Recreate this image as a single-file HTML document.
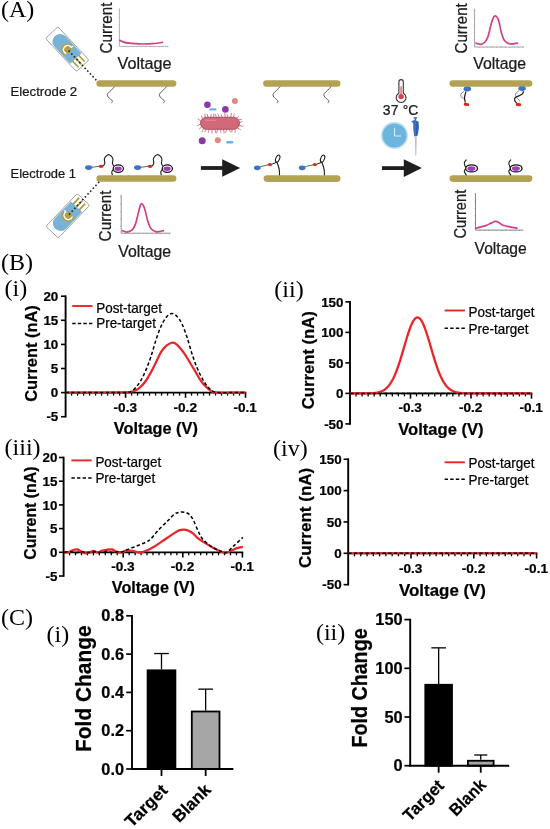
<!DOCTYPE html>
<html><head><meta charset="utf-8"><style>
html,body{margin:0;padding:0;background:#fff;}
svg{display:block;filter:blur(0.3px);}
text{stroke:#000;stroke-width:0.22px;}
text.s{stroke:none;}
</style></head><body>
<svg width="550" height="829" viewBox="0 0 550 829">
<rect width="550" height="829" fill="#fff"/>
<text class="s" x="1.0" y="17.0" font-family="Liberation Serif" font-size="24.0" fill="#000">(A)</text>
<text class="s" x="1.0" y="269.9" font-family="Liberation Serif" font-size="24.0" fill="#000">(B)</text>
<text class="s" x="4.6" y="295.6" font-family="Liberation Serif" font-size="24.0" fill="#000">(i)</text>
<text class="s" x="274.3" y="297.1" font-family="Liberation Serif" font-size="24.0" fill="#000">(ii)</text>
<text class="s" x="4.6" y="455.3" font-family="Liberation Serif" font-size="24.0" fill="#000">(iii)</text>
<text class="s" x="273.0" y="456.0" font-family="Liberation Serif" font-size="24.0" fill="#000">(iv)</text>
<text class="s" x="1.0" y="624.5" font-family="Liberation Serif" font-size="24.0" fill="#000">(C)</text>
<text class="s" x="46.6" y="641.7" font-family="Liberation Serif" font-size="24.0" fill="#000">(i)</text>
<text class="s" x="315.9" y="640.3" font-family="Liberation Serif" font-size="24.0" fill="#000">(ii)</text>
<line x1="65.60" y1="295.40" x2="65.60" y2="417.50" stroke="#000" stroke-width="1.9"/>
<line x1="61.00" y1="296.20" x2="65.60" y2="296.20" stroke="#000" stroke-width="1.6"/>
<text x="58.30" y="300.80" font-family="Liberation Sans" font-size="13.4" font-weight="bold" text-anchor="end" fill="#000" >20</text>
<line x1="61.00" y1="320.30" x2="65.60" y2="320.30" stroke="#000" stroke-width="1.6"/>
<text x="58.30" y="324.90" font-family="Liberation Sans" font-size="13.4" font-weight="bold" text-anchor="end" fill="#000" >15</text>
<line x1="61.00" y1="344.40" x2="65.60" y2="344.40" stroke="#000" stroke-width="1.6"/>
<text x="58.30" y="349.00" font-family="Liberation Sans" font-size="13.4" font-weight="bold" text-anchor="end" fill="#000" >10</text>
<line x1="61.00" y1="368.50" x2="65.60" y2="368.50" stroke="#000" stroke-width="1.6"/>
<text x="58.30" y="373.10" font-family="Liberation Sans" font-size="13.4" font-weight="bold" text-anchor="end" fill="#000" >5</text>
<line x1="61.00" y1="392.60" x2="65.60" y2="392.60" stroke="#000" stroke-width="1.6"/>
<text x="58.30" y="397.20" font-family="Liberation Sans" font-size="13.4" font-weight="bold" text-anchor="end" fill="#000" >0</text>
<line x1="61.00" y1="416.70" x2="65.60" y2="416.70" stroke="#000" stroke-width="1.6"/>
<text x="58.30" y="421.30" font-family="Liberation Sans" font-size="13.4" font-weight="bold" text-anchor="end" fill="#000" >-5</text>
<line x1="65.60" y1="392.60" x2="246.31" y2="392.60" stroke="#000" stroke-width="1.7"/>
<line x1="71.60" y1="392.60" x2="71.60" y2="395.60" stroke="#000" stroke-width="1.3"/>
<line x1="77.59" y1="392.60" x2="77.59" y2="395.60" stroke="#000" stroke-width="1.3"/>
<line x1="83.59" y1="392.60" x2="83.59" y2="395.60" stroke="#000" stroke-width="1.3"/>
<line x1="89.59" y1="392.60" x2="89.59" y2="395.60" stroke="#000" stroke-width="1.3"/>
<line x1="95.58" y1="392.60" x2="95.58" y2="395.60" stroke="#000" stroke-width="1.3"/>
<line x1="101.58" y1="392.60" x2="101.58" y2="395.60" stroke="#000" stroke-width="1.3"/>
<line x1="107.58" y1="392.60" x2="107.58" y2="395.60" stroke="#000" stroke-width="1.3"/>
<line x1="113.58" y1="392.60" x2="113.58" y2="395.60" stroke="#000" stroke-width="1.3"/>
<line x1="119.57" y1="392.60" x2="119.57" y2="395.60" stroke="#000" stroke-width="1.3"/>
<line x1="125.57" y1="392.60" x2="125.57" y2="397.80" stroke="#000" stroke-width="1.6"/>
<line x1="131.57" y1="392.60" x2="131.57" y2="395.60" stroke="#000" stroke-width="1.3"/>
<line x1="137.56" y1="392.60" x2="137.56" y2="395.60" stroke="#000" stroke-width="1.3"/>
<line x1="143.56" y1="392.60" x2="143.56" y2="395.60" stroke="#000" stroke-width="1.3"/>
<line x1="149.56" y1="392.60" x2="149.56" y2="395.60" stroke="#000" stroke-width="1.3"/>
<line x1="155.56" y1="392.60" x2="155.56" y2="395.60" stroke="#000" stroke-width="1.3"/>
<line x1="161.55" y1="392.60" x2="161.55" y2="395.60" stroke="#000" stroke-width="1.3"/>
<line x1="167.55" y1="392.60" x2="167.55" y2="395.60" stroke="#000" stroke-width="1.3"/>
<line x1="173.55" y1="392.60" x2="173.55" y2="395.60" stroke="#000" stroke-width="1.3"/>
<line x1="179.54" y1="392.60" x2="179.54" y2="395.60" stroke="#000" stroke-width="1.3"/>
<line x1="185.54" y1="392.60" x2="185.54" y2="397.80" stroke="#000" stroke-width="1.6"/>
<line x1="191.54" y1="392.60" x2="191.54" y2="395.60" stroke="#000" stroke-width="1.3"/>
<line x1="197.53" y1="392.60" x2="197.53" y2="395.60" stroke="#000" stroke-width="1.3"/>
<line x1="203.53" y1="392.60" x2="203.53" y2="395.60" stroke="#000" stroke-width="1.3"/>
<line x1="209.53" y1="392.60" x2="209.53" y2="395.60" stroke="#000" stroke-width="1.3"/>
<line x1="215.53" y1="392.60" x2="215.53" y2="395.60" stroke="#000" stroke-width="1.3"/>
<line x1="221.52" y1="392.60" x2="221.52" y2="395.60" stroke="#000" stroke-width="1.3"/>
<line x1="227.52" y1="392.60" x2="227.52" y2="395.60" stroke="#000" stroke-width="1.3"/>
<line x1="233.52" y1="392.60" x2="233.52" y2="395.60" stroke="#000" stroke-width="1.3"/>
<line x1="239.51" y1="392.60" x2="239.51" y2="395.60" stroke="#000" stroke-width="1.3"/>
<line x1="245.51" y1="392.60" x2="245.51" y2="397.80" stroke="#000" stroke-width="1.6"/>
<text x="125.27" y="411.90" font-family="Liberation Sans" font-size="13.6" font-weight="bold" text-anchor="middle" fill="#000" >-0.3</text>
<text x="185.24" y="411.90" font-family="Liberation Sans" font-size="13.6" font-weight="bold" text-anchor="middle" fill="#000" >-0.2</text>
<text x="245.21" y="411.90" font-family="Liberation Sans" font-size="13.6" font-weight="bold" text-anchor="middle" fill="#000" >-0.1</text>
<path d="M65.60,392.60 C71.33,392.60 90.10,392.63 100.00,392.60 C109.90,392.57 119.97,392.50 125.00,392.40 C130.03,392.30 128.47,392.32 130.20,392.00 C131.93,391.68 133.68,391.33 135.40,390.50 C137.12,389.67 138.78,388.58 140.50,387.00 C142.22,385.42 143.97,383.43 145.70,381.00 C147.43,378.57 149.17,375.57 150.90,372.40 C152.63,369.23 154.37,365.47 156.10,362.00 C157.83,358.53 159.57,354.33 161.30,351.60 C163.03,348.87 164.78,347.08 166.50,345.60 C168.22,344.12 170.17,343.08 171.60,342.70 C173.03,342.32 173.65,342.38 175.10,343.30 C176.55,344.22 178.58,346.23 180.30,348.20 C182.02,350.17 183.68,352.52 185.40,355.10 C187.12,357.68 188.87,360.82 190.60,363.70 C192.33,366.58 194.07,369.52 195.80,372.40 C197.53,375.28 199.27,378.57 201.00,381.00 C202.73,383.43 204.47,385.30 206.20,387.00 C207.93,388.70 209.68,390.28 211.40,391.20 C213.12,392.12 213.40,392.27 216.50,392.50 C219.60,392.73 225.15,392.58 230.00,392.60 C234.85,392.62 243.00,392.60 245.60,392.60" fill="none" stroke="#e8262a" stroke-width="2.2" stroke-linejoin="round"/>
<path d="M65.60,392.60 C71.33,392.60 90.10,392.62 100.00,392.60 C109.90,392.58 119.97,392.60 125.00,392.50 C130.03,392.40 128.47,392.77 130.20,392.00 C131.93,391.23 133.68,389.73 135.40,387.90 C137.12,386.07 138.78,383.88 140.50,381.00 C142.22,378.12 143.97,374.63 145.70,370.60 C147.43,366.57 149.17,361.98 150.90,356.80 C152.63,351.62 154.37,344.68 156.10,339.50 C157.83,334.32 159.57,329.43 161.30,325.70 C163.03,321.97 164.78,319.12 166.50,317.10 C168.22,315.08 169.88,313.75 171.60,313.60 C173.32,313.45 175.07,314.47 176.80,316.20 C178.53,317.93 180.27,320.40 182.00,324.00 C183.73,327.60 185.47,332.62 187.20,337.80 C188.93,342.98 190.68,349.92 192.40,355.10 C194.12,360.28 195.78,364.87 197.50,368.90 C199.22,372.93 200.97,376.28 202.70,379.30 C204.43,382.32 206.17,384.98 207.90,387.00 C209.63,389.02 211.42,390.47 213.10,391.40 C214.78,392.33 215.18,392.40 218.00,392.60 C220.82,392.80 225.40,392.60 230.00,392.60 C234.60,392.60 243.00,392.60 245.60,392.60" fill="none" stroke="#000" stroke-width="1.5" stroke-linejoin="round" stroke-dasharray="3.4,2.3"/>
<text transform="translate(36.80,353.50) rotate(-90)" x="-48.30" y="0" font-family="Liberation Sans" font-size="16.4" font-weight="bold" fill="#000" textLength="96.60" lengthAdjust="spacingAndGlyphs">Current (nA)</text>
<text x="113.85" y="433.50" font-family="Liberation Sans" font-size="16.3" font-weight="bold" fill="#000" textLength="84.00" lengthAdjust="spacingAndGlyphs">Voltage (V)</text>
<line x1="72.20" y1="306.00" x2="92.50" y2="306.00" stroke="#e8262a" stroke-width="1.9"/>
<line x1="72.20" y1="323.40" x2="92.50" y2="323.40" stroke="#000" stroke-width="1.5" stroke-dasharray="3.4,2.2"/>
<text x="96.20" y="312.50" font-family="Liberation Sans" font-size="14.2" textLength="65.8" lengthAdjust="spacingAndGlyphs">Post-target</text>
<text x="96.20" y="327.80" font-family="Liberation Sans" font-size="14.2" textLength="59.8" lengthAdjust="spacingAndGlyphs">Pre-target</text>
<line x1="350.00" y1="301.10" x2="350.00" y2="424.70" stroke="#000" stroke-width="1.9"/>
<line x1="345.40" y1="301.90" x2="350.00" y2="301.90" stroke="#000" stroke-width="1.6"/>
<text x="343.50" y="306.50" font-family="Liberation Sans" font-size="13.4" font-weight="bold" text-anchor="end" fill="#000" >150</text>
<line x1="345.40" y1="332.40" x2="350.00" y2="332.40" stroke="#000" stroke-width="1.6"/>
<text x="343.50" y="337.00" font-family="Liberation Sans" font-size="13.4" font-weight="bold" text-anchor="end" fill="#000" >100</text>
<line x1="345.40" y1="362.90" x2="350.00" y2="362.90" stroke="#000" stroke-width="1.6"/>
<text x="343.50" y="367.50" font-family="Liberation Sans" font-size="13.4" font-weight="bold" text-anchor="end" fill="#000" >50</text>
<line x1="345.40" y1="393.40" x2="350.00" y2="393.40" stroke="#000" stroke-width="1.6"/>
<text x="343.50" y="398.00" font-family="Liberation Sans" font-size="13.4" font-weight="bold" text-anchor="end" fill="#000" >0</text>
<line x1="345.40" y1="423.90" x2="350.00" y2="423.90" stroke="#000" stroke-width="1.6"/>
<text x="343.50" y="428.50" font-family="Liberation Sans" font-size="13.4" font-weight="bold" text-anchor="end" fill="#000" >-50</text>
<line x1="350.00" y1="393.40" x2="532.30" y2="393.40" stroke="#000" stroke-width="1.7"/>
<line x1="356.05" y1="393.40" x2="356.05" y2="396.40" stroke="#000" stroke-width="1.3"/>
<line x1="362.10" y1="393.40" x2="362.10" y2="396.40" stroke="#000" stroke-width="1.3"/>
<line x1="368.15" y1="393.40" x2="368.15" y2="396.40" stroke="#000" stroke-width="1.3"/>
<line x1="374.20" y1="393.40" x2="374.20" y2="396.40" stroke="#000" stroke-width="1.3"/>
<line x1="380.25" y1="393.40" x2="380.25" y2="396.40" stroke="#000" stroke-width="1.3"/>
<line x1="386.30" y1="393.40" x2="386.30" y2="396.40" stroke="#000" stroke-width="1.3"/>
<line x1="392.35" y1="393.40" x2="392.35" y2="396.40" stroke="#000" stroke-width="1.3"/>
<line x1="398.40" y1="393.40" x2="398.40" y2="396.40" stroke="#000" stroke-width="1.3"/>
<line x1="404.45" y1="393.40" x2="404.45" y2="396.40" stroke="#000" stroke-width="1.3"/>
<line x1="410.50" y1="393.40" x2="410.50" y2="398.60" stroke="#000" stroke-width="1.6"/>
<line x1="416.55" y1="393.40" x2="416.55" y2="396.40" stroke="#000" stroke-width="1.3"/>
<line x1="422.60" y1="393.40" x2="422.60" y2="396.40" stroke="#000" stroke-width="1.3"/>
<line x1="428.65" y1="393.40" x2="428.65" y2="396.40" stroke="#000" stroke-width="1.3"/>
<line x1="434.70" y1="393.40" x2="434.70" y2="396.40" stroke="#000" stroke-width="1.3"/>
<line x1="440.75" y1="393.40" x2="440.75" y2="396.40" stroke="#000" stroke-width="1.3"/>
<line x1="446.80" y1="393.40" x2="446.80" y2="396.40" stroke="#000" stroke-width="1.3"/>
<line x1="452.85" y1="393.40" x2="452.85" y2="396.40" stroke="#000" stroke-width="1.3"/>
<line x1="458.90" y1="393.40" x2="458.90" y2="396.40" stroke="#000" stroke-width="1.3"/>
<line x1="464.95" y1="393.40" x2="464.95" y2="396.40" stroke="#000" stroke-width="1.3"/>
<line x1="471.00" y1="393.40" x2="471.00" y2="398.60" stroke="#000" stroke-width="1.6"/>
<line x1="477.05" y1="393.40" x2="477.05" y2="396.40" stroke="#000" stroke-width="1.3"/>
<line x1="483.10" y1="393.40" x2="483.10" y2="396.40" stroke="#000" stroke-width="1.3"/>
<line x1="489.15" y1="393.40" x2="489.15" y2="396.40" stroke="#000" stroke-width="1.3"/>
<line x1="495.20" y1="393.40" x2="495.20" y2="396.40" stroke="#000" stroke-width="1.3"/>
<line x1="501.25" y1="393.40" x2="501.25" y2="396.40" stroke="#000" stroke-width="1.3"/>
<line x1="507.30" y1="393.40" x2="507.30" y2="396.40" stroke="#000" stroke-width="1.3"/>
<line x1="513.35" y1="393.40" x2="513.35" y2="396.40" stroke="#000" stroke-width="1.3"/>
<line x1="519.40" y1="393.40" x2="519.40" y2="396.40" stroke="#000" stroke-width="1.3"/>
<line x1="525.45" y1="393.40" x2="525.45" y2="396.40" stroke="#000" stroke-width="1.3"/>
<line x1="531.50" y1="393.40" x2="531.50" y2="398.60" stroke="#000" stroke-width="1.6"/>
<text x="410.20" y="411.90" font-family="Liberation Sans" font-size="13.6" font-weight="bold" text-anchor="middle" fill="#000" >-0.3</text>
<text x="470.70" y="411.90" font-family="Liberation Sans" font-size="13.6" font-weight="bold" text-anchor="middle" fill="#000" >-0.2</text>
<text x="531.20" y="411.90" font-family="Liberation Sans" font-size="13.6" font-weight="bold" text-anchor="middle" fill="#000" >-0.1</text>
<path d="M350.00,393.40 L350.76,393.40 L351.51,393.40 L352.27,393.40 L353.02,393.40 L353.78,393.40 L354.54,393.40 L355.29,393.40 L356.05,393.40 L356.81,393.40 L357.56,393.40 L358.32,393.40 L359.07,393.39 L359.83,393.39 L360.59,393.39 L361.34,393.39 L362.10,393.38 L362.86,393.38 L363.61,393.38 L364.37,393.37 L365.12,393.36 L365.88,393.35 L366.64,393.34 L367.39,393.33 L368.15,393.31 L368.91,393.29 L369.66,393.26 L370.42,393.24 L371.18,393.20 L371.93,393.16 L372.69,393.11 L373.44,393.05 L374.20,392.98 L374.96,392.89 L375.71,392.79 L376.47,392.68 L377.23,392.54 L377.98,392.39 L378.74,392.21 L379.49,392.00 L380.25,391.76 L381.01,391.49 L381.76,391.18 L382.52,390.82 L383.27,390.42 L384.03,389.97 L384.79,389.46 L385.54,388.89 L386.30,388.25 L387.06,387.54 L387.81,386.75 L388.57,385.89 L389.32,384.93 L390.08,383.89 L390.84,382.75 L391.59,381.51 L392.35,380.17 L393.11,378.72 L393.86,377.17 L394.62,375.51 L395.38,373.74 L396.13,371.87 L396.89,369.89 L397.64,367.82 L398.40,365.65 L399.16,363.39 L399.91,361.04 L400.67,358.63 L401.43,356.15 L402.18,353.63 L402.94,351.06 L403.69,348.48 L404.45,345.89 L405.21,343.30 L405.96,340.74 L406.72,338.23 L407.48,335.78 L408.23,333.42 L408.99,331.15 L409.74,329.00 L410.50,326.99 L411.26,325.13 L412.01,323.45 L412.77,321.94 L413.52,320.64 L414.28,319.55 L415.04,318.68 L415.79,318.04 L416.55,317.63 L417.31,317.46 L418.06,317.53 L418.82,317.84 L419.57,318.39 L420.33,319.17 L421.09,320.18 L421.84,321.40 L422.60,322.82 L423.36,324.44 L424.11,326.23 L424.87,328.18 L425.62,330.28 L426.38,332.50 L427.14,334.83 L427.89,337.24 L428.65,339.73 L429.41,342.27 L430.16,344.85 L430.92,347.44 L431.68,350.03 L432.43,352.61 L433.19,355.15 L433.94,357.65 L434.70,360.09 L435.46,362.46 L436.21,364.75 L436.97,366.96 L437.73,369.08 L438.48,371.09 L439.24,373.01 L439.99,374.82 L440.75,376.52 L441.51,378.11 L442.26,379.60 L443.02,380.98 L443.77,382.26 L444.53,383.44 L445.29,384.52 L446.04,385.51 L446.80,386.42 L447.56,387.23 L448.31,387.97 L449.07,388.64 L449.83,389.24 L450.58,389.77 L451.34,390.25 L452.09,390.67 L452.85,391.04 L453.61,391.37 L454.36,391.66 L455.12,391.91 L455.88,392.13 L456.63,392.32 L457.39,392.49 L458.14,392.63 L458.90,392.75 L459.66,392.85 L460.41,392.94 L461.17,393.02 L461.93,393.08 L462.68,393.14 L463.44,393.18 L464.19,393.22 L464.95,393.25 L465.71,393.28 L466.46,393.30 L467.22,393.32 L467.98,393.34 L468.73,393.35 L469.49,393.36 L470.24,393.37 L471.00,393.37 L471.76,393.38 L472.51,393.38 L473.27,393.39 L474.03,393.39 L474.78,393.39 L475.54,393.39 L476.29,393.39 L477.05,393.40 L477.81,393.40 L478.56,393.40 L479.32,393.40 L480.08,393.40 L480.83,393.40 L481.59,393.40 L482.34,393.40 L483.10,393.40 L483.86,393.40 L484.61,393.40 L485.37,393.40 L486.12,393.40 L486.88,393.40 L487.64,393.40 L488.39,393.40 L489.15,393.40 L489.91,393.40 L490.66,393.40 L491.42,393.40 L492.18,393.40 L492.93,393.40 L493.69,393.40 L494.44,393.40 L495.20,393.40 L495.96,393.40 L496.71,393.40 L497.47,393.40 L498.23,393.40 L498.98,393.40 L499.74,393.40 L500.49,393.40 L501.25,393.40 L502.01,393.40 L502.76,393.40 L503.52,393.40 L504.28,393.40 L505.03,393.40 L505.79,393.40 L506.54,393.40 L507.30,393.40 L508.06,393.40 L508.81,393.40 L509.57,393.40 L510.33,393.40 L511.08,393.40 L511.84,393.40 L512.59,393.40 L513.35,393.40 L514.11,393.40 L514.86,393.40 L515.62,393.40 L516.38,393.40 L517.13,393.40 L517.89,393.40 L518.64,393.40 L519.40,393.40 L520.16,393.40 L520.91,393.40 L521.67,393.40 L522.43,393.40 L523.18,393.40 L523.94,393.40 L524.69,393.40 L525.45,393.40 L526.21,393.40 L526.96,393.40 L527.72,393.40 L528.48,393.40 L529.23,393.40 L529.99,393.40 L530.74,393.40 L531.50,393.40" fill="none" stroke="#e8262a" stroke-width="2.3" stroke-linejoin="round"/>
<path d="M350.00,393.40 L350.76,393.40 L351.51,393.40 L352.27,393.40 L353.02,393.40 L353.78,393.40 L354.54,393.40 L355.29,393.40 L356.05,393.40 L356.81,393.40 L357.56,393.40 L358.32,393.40 L359.07,393.40 L359.83,393.40 L360.59,393.40 L361.34,393.40 L362.10,393.40 L362.86,393.40 L363.61,393.40 L364.37,393.40 L365.12,393.40 L365.88,393.40 L366.64,393.40 L367.39,393.40 L368.15,393.40 L368.91,393.40 L369.66,393.40 L370.42,393.40 L371.18,393.40 L371.93,393.40 L372.69,393.40 L373.44,393.40 L374.20,393.40 L374.96,393.40 L375.71,393.40 L376.47,393.40 L377.23,393.40 L377.98,393.40 L378.74,393.40 L379.49,393.40 L380.25,393.40 L381.01,393.40 L381.76,393.40 L382.52,393.40 L383.27,393.40 L384.03,393.40 L384.79,393.40 L385.54,393.40 L386.30,393.40 L387.06,393.40 L387.81,393.40 L388.57,393.40 L389.32,393.40 L390.08,393.40 L390.84,393.40 L391.59,393.40 L392.35,393.40 L393.11,393.40 L393.86,393.40 L394.62,393.40 L395.38,393.40 L396.13,393.40 L396.89,393.40 L397.64,393.40 L398.40,393.40 L399.16,393.40 L399.91,393.40 L400.67,393.40 L401.43,393.40 L402.18,393.40 L402.94,393.40 L403.69,393.40 L404.45,393.40 L405.21,393.40 L405.96,393.40 L406.72,393.40 L407.48,393.40 L408.23,393.40 L408.99,393.40 L409.74,393.40 L410.50,393.40 L411.26,393.40 L412.01,393.40 L412.77,393.40 L413.52,393.40 L414.28,393.40 L415.04,393.40 L415.79,393.40 L416.55,393.40 L417.31,393.40 L418.06,393.40 L418.82,393.40 L419.57,393.40 L420.33,393.40 L421.09,393.40 L421.84,393.40 L422.60,393.40 L423.36,393.40 L424.11,393.40 L424.87,393.40 L425.62,393.40 L426.38,393.40 L427.14,393.40 L427.89,393.40 L428.65,393.40 L429.41,393.40 L430.16,393.40 L430.92,393.40 L431.68,393.40 L432.43,393.40 L433.19,393.40 L433.94,393.40 L434.70,393.40 L435.46,393.40 L436.21,393.40 L436.97,393.40 L437.73,393.40 L438.48,393.40 L439.24,393.40 L439.99,393.40 L440.75,393.40 L441.51,393.40 L442.26,393.40 L443.02,393.40 L443.77,393.40 L444.53,393.40 L445.29,393.40 L446.04,393.40 L446.80,393.40 L447.56,393.40 L448.31,393.40 L449.07,393.40 L449.83,393.40 L450.58,393.40 L451.34,393.40 L452.09,393.40 L452.85,393.40 L453.61,393.40 L454.36,393.40 L455.12,393.40 L455.88,393.40 L456.63,393.40 L457.39,393.40 L458.14,393.40 L458.90,393.40 L459.66,393.40 L460.41,393.40 L461.17,393.40 L461.93,393.40 L462.68,393.40 L463.44,393.40 L464.19,393.40 L464.95,393.40 L465.71,393.40 L466.46,393.40 L467.22,393.40 L467.98,393.40 L468.73,393.40 L469.49,393.40 L470.24,393.40 L471.00,393.40 L471.76,393.40 L472.51,393.40 L473.27,393.40 L474.03,393.40 L474.78,393.40 L475.54,393.40 L476.29,393.40 L477.05,393.40 L477.81,393.40 L478.56,393.40 L479.32,393.40 L480.08,393.40 L480.83,393.40 L481.59,393.40 L482.34,393.40 L483.10,393.40 L483.86,393.40 L484.61,393.40 L485.37,393.40 L486.12,393.40 L486.88,393.40 L487.64,393.40 L488.39,393.40 L489.15,393.40 L489.91,393.40 L490.66,393.40 L491.42,393.40 L492.18,393.40 L492.93,393.40 L493.69,393.40 L494.44,393.40 L495.20,393.40 L495.96,393.40 L496.71,393.40 L497.47,393.40 L498.23,393.40 L498.98,393.40 L499.74,393.40 L500.49,393.40 L501.25,393.40 L502.01,393.40 L502.76,393.40 L503.52,393.40 L504.28,393.40 L505.03,393.40 L505.79,393.40 L506.54,393.40 L507.30,393.40 L508.06,393.40 L508.81,393.40 L509.57,393.40 L510.33,393.40 L511.08,393.40 L511.84,393.40 L512.59,393.40 L513.35,393.40 L514.11,393.40 L514.86,393.40 L515.62,393.40 L516.38,393.40 L517.13,393.40 L517.89,393.40 L518.64,393.40 L519.40,393.40 L520.16,393.40 L520.91,393.40 L521.67,393.40 L522.43,393.40 L523.18,393.40 L523.94,393.40 L524.69,393.40 L525.45,393.40 L526.21,393.40 L526.96,393.40 L527.72,393.40 L528.48,393.40 L529.23,393.40 L529.99,393.40 L530.74,393.40 L531.50,393.40" fill="none" stroke="#000" stroke-width="1.5" stroke-linejoin="round" stroke-dasharray="3.4,2.3"/>
<text transform="translate(313.60,360.20) rotate(-90)" x="-49.10" y="0" font-family="Liberation Sans" font-size="16.4" font-weight="bold" fill="#000" textLength="98.20" lengthAdjust="spacingAndGlyphs">Current (nA)</text>
<text x="398.20" y="434.60" font-family="Liberation Sans" font-size="16.3" font-weight="bold" fill="#000" textLength="85.40" lengthAdjust="spacingAndGlyphs">Voltage (V)</text>
<line x1="444.60" y1="310.50" x2="464.90" y2="310.50" stroke="#e8262a" stroke-width="1.9"/>
<line x1="444.60" y1="328.20" x2="464.90" y2="328.20" stroke="#000" stroke-width="1.5" stroke-dasharray="3.4,2.2"/>
<text x="468.60" y="317.30" font-family="Liberation Sans" font-size="14.2" textLength="65.8" lengthAdjust="spacingAndGlyphs">Post-target</text>
<text x="468.60" y="333.60" font-family="Liberation Sans" font-size="14.2" textLength="59.8" lengthAdjust="spacingAndGlyphs">Pre-target</text>
<line x1="63.60" y1="456.70" x2="63.60" y2="576.80" stroke="#000" stroke-width="1.9"/>
<line x1="59.00" y1="457.50" x2="63.60" y2="457.50" stroke="#000" stroke-width="1.6"/>
<text x="57.40" y="462.10" font-family="Liberation Sans" font-size="13.4" font-weight="bold" text-anchor="end" fill="#000" >20</text>
<line x1="59.00" y1="481.20" x2="63.60" y2="481.20" stroke="#000" stroke-width="1.6"/>
<text x="57.40" y="485.80" font-family="Liberation Sans" font-size="13.4" font-weight="bold" text-anchor="end" fill="#000" >15</text>
<line x1="59.00" y1="504.90" x2="63.60" y2="504.90" stroke="#000" stroke-width="1.6"/>
<text x="57.40" y="509.50" font-family="Liberation Sans" font-size="13.4" font-weight="bold" text-anchor="end" fill="#000" >10</text>
<line x1="59.00" y1="528.60" x2="63.60" y2="528.60" stroke="#000" stroke-width="1.6"/>
<text x="57.40" y="533.20" font-family="Liberation Sans" font-size="13.4" font-weight="bold" text-anchor="end" fill="#000" >5</text>
<line x1="59.00" y1="552.30" x2="63.60" y2="552.30" stroke="#000" stroke-width="1.6"/>
<text x="57.40" y="556.90" font-family="Liberation Sans" font-size="13.4" font-weight="bold" text-anchor="end" fill="#000" >0</text>
<line x1="59.00" y1="576.00" x2="63.60" y2="576.00" stroke="#000" stroke-width="1.6"/>
<text x="57.40" y="580.60" font-family="Liberation Sans" font-size="13.4" font-weight="bold" text-anchor="end" fill="#000" >-5</text>
<line x1="63.60" y1="552.30" x2="243.20" y2="552.30" stroke="#000" stroke-width="1.7"/>
<line x1="69.56" y1="552.30" x2="69.56" y2="555.30" stroke="#000" stroke-width="1.3"/>
<line x1="75.52" y1="552.30" x2="75.52" y2="555.30" stroke="#000" stroke-width="1.3"/>
<line x1="81.48" y1="552.30" x2="81.48" y2="555.30" stroke="#000" stroke-width="1.3"/>
<line x1="87.44" y1="552.30" x2="87.44" y2="555.30" stroke="#000" stroke-width="1.3"/>
<line x1="93.40" y1="552.30" x2="93.40" y2="555.30" stroke="#000" stroke-width="1.3"/>
<line x1="99.36" y1="552.30" x2="99.36" y2="555.30" stroke="#000" stroke-width="1.3"/>
<line x1="105.32" y1="552.30" x2="105.32" y2="555.30" stroke="#000" stroke-width="1.3"/>
<line x1="111.28" y1="552.30" x2="111.28" y2="555.30" stroke="#000" stroke-width="1.3"/>
<line x1="117.24" y1="552.30" x2="117.24" y2="555.30" stroke="#000" stroke-width="1.3"/>
<line x1="123.20" y1="552.30" x2="123.20" y2="557.50" stroke="#000" stroke-width="1.6"/>
<line x1="129.16" y1="552.30" x2="129.16" y2="555.30" stroke="#000" stroke-width="1.3"/>
<line x1="135.12" y1="552.30" x2="135.12" y2="555.30" stroke="#000" stroke-width="1.3"/>
<line x1="141.08" y1="552.30" x2="141.08" y2="555.30" stroke="#000" stroke-width="1.3"/>
<line x1="147.04" y1="552.30" x2="147.04" y2="555.30" stroke="#000" stroke-width="1.3"/>
<line x1="153.00" y1="552.30" x2="153.00" y2="555.30" stroke="#000" stroke-width="1.3"/>
<line x1="158.96" y1="552.30" x2="158.96" y2="555.30" stroke="#000" stroke-width="1.3"/>
<line x1="164.92" y1="552.30" x2="164.92" y2="555.30" stroke="#000" stroke-width="1.3"/>
<line x1="170.88" y1="552.30" x2="170.88" y2="555.30" stroke="#000" stroke-width="1.3"/>
<line x1="176.84" y1="552.30" x2="176.84" y2="555.30" stroke="#000" stroke-width="1.3"/>
<line x1="182.80" y1="552.30" x2="182.80" y2="557.50" stroke="#000" stroke-width="1.6"/>
<line x1="188.76" y1="552.30" x2="188.76" y2="555.30" stroke="#000" stroke-width="1.3"/>
<line x1="194.72" y1="552.30" x2="194.72" y2="555.30" stroke="#000" stroke-width="1.3"/>
<line x1="200.68" y1="552.30" x2="200.68" y2="555.30" stroke="#000" stroke-width="1.3"/>
<line x1="206.64" y1="552.30" x2="206.64" y2="555.30" stroke="#000" stroke-width="1.3"/>
<line x1="212.60" y1="552.30" x2="212.60" y2="555.30" stroke="#000" stroke-width="1.3"/>
<line x1="218.56" y1="552.30" x2="218.56" y2="555.30" stroke="#000" stroke-width="1.3"/>
<line x1="224.52" y1="552.30" x2="224.52" y2="555.30" stroke="#000" stroke-width="1.3"/>
<line x1="230.48" y1="552.30" x2="230.48" y2="555.30" stroke="#000" stroke-width="1.3"/>
<line x1="236.44" y1="552.30" x2="236.44" y2="555.30" stroke="#000" stroke-width="1.3"/>
<line x1="242.40" y1="552.30" x2="242.40" y2="557.50" stroke="#000" stroke-width="1.6"/>
<text x="122.90" y="570.90" font-family="Liberation Sans" font-size="13.6" font-weight="bold" text-anchor="middle" fill="#000" >-0.3</text>
<text x="182.50" y="570.90" font-family="Liberation Sans" font-size="13.6" font-weight="bold" text-anchor="middle" fill="#000" >-0.2</text>
<text x="242.10" y="570.90" font-family="Liberation Sans" font-size="13.6" font-weight="bold" text-anchor="middle" fill="#000" >-0.1</text>
<path d="M64.40,552.50 C65.12,552.45 67.25,552.62 68.70,552.20 C70.15,551.78 71.63,550.45 73.10,550.00 C74.57,549.55 76.28,549.33 77.50,549.50 C78.72,549.67 79.20,550.38 80.40,551.00 C81.60,551.62 83.25,552.92 84.70,553.20 C86.15,553.48 87.63,553.07 89.10,552.70 C90.57,552.33 92.05,551.03 93.50,551.00 C94.95,550.97 96.35,552.55 97.80,552.50 C99.25,552.45 100.75,551.15 102.20,550.70 C103.65,550.25 104.80,550.00 106.50,549.80 C108.20,549.60 110.93,549.25 112.40,549.50 C113.87,549.75 113.85,550.80 115.30,551.30 C116.75,551.80 119.40,552.55 121.10,552.50 C122.80,552.45 123.72,551.28 125.50,551.00 C127.28,550.72 129.37,550.55 131.80,550.80 C134.23,551.05 137.73,552.50 140.10,552.50 C142.47,552.50 143.83,551.67 146.00,550.80 C148.17,549.93 150.73,548.67 153.10,547.30 C155.47,545.93 157.83,544.18 160.20,542.60 C162.57,541.02 164.93,539.38 167.30,537.80 C169.67,536.22 172.43,534.35 174.40,533.10 C176.37,531.85 177.53,530.88 179.10,530.30 C180.67,529.72 182.22,529.53 183.80,529.60 C185.38,529.67 187.02,530.03 188.60,530.70 C190.18,531.37 191.73,532.33 193.30,533.60 C194.87,534.87 196.03,536.73 198.00,538.30 C199.97,539.87 202.73,541.50 205.10,543.00 C207.47,544.50 209.83,546.00 212.20,547.30 C214.57,548.60 217.33,549.93 219.30,550.80 C221.27,551.67 222.43,552.30 224.00,552.50 C225.57,552.70 226.73,552.67 228.70,552.00 C230.67,551.33 233.43,549.37 235.80,548.50 C238.17,547.63 241.72,547.08 242.90,546.80" fill="none" stroke="#e8262a" stroke-width="2.3" stroke-linejoin="round"/>
<path d="M64.40,552.20 C65.33,552.08 68.07,551.40 70.00,551.50 C71.93,551.60 74.00,552.75 76.00,552.80 C78.00,552.85 80.00,551.83 82.00,551.80 C84.00,551.77 86.00,552.63 88.00,552.60 C90.00,552.57 92.00,551.63 94.00,551.60 C96.00,551.57 98.00,552.42 100.00,552.40 C102.00,552.38 104.00,551.48 106.00,551.50 C108.00,551.52 110.00,552.45 112.00,552.50 C114.00,552.55 116.33,551.90 118.00,551.80 C119.67,551.70 120.48,552.27 122.00,551.90 C123.52,551.53 124.68,550.57 127.10,549.60 C129.52,548.63 133.35,547.35 136.50,546.10 C139.65,544.85 143.63,543.28 146.00,542.10 C148.37,540.92 148.73,540.90 150.70,539.00 C152.67,537.10 155.03,533.65 157.80,530.70 C160.57,527.75 164.53,524.05 167.30,521.30 C170.07,518.55 172.43,515.70 174.40,514.20 C176.37,512.70 177.33,512.62 179.10,512.30 C180.87,511.98 183.23,511.90 185.00,512.30 C186.77,512.70 188.32,513.40 189.70,514.70 C191.08,516.00 191.92,517.43 193.30,520.10 C194.68,522.77 196.62,527.75 198.00,530.70 C199.38,533.65 200.02,535.63 201.60,537.80 C203.18,539.97 205.33,541.92 207.50,543.70 C209.67,545.48 212.23,547.20 214.60,548.50 C216.97,549.80 219.73,550.83 221.70,551.50 C223.67,552.17 224.43,553.40 226.40,552.50 C228.37,551.60 230.75,548.62 233.50,546.10 C236.25,543.58 241.33,538.85 242.90,537.40" fill="none" stroke="#000" stroke-width="1.5" stroke-linejoin="round" stroke-dasharray="3.4,2.3"/>
<text transform="translate(35.60,513.20) rotate(-90)" x="-46.60" y="0" font-family="Liberation Sans" font-size="16.4" font-weight="bold" fill="#000" textLength="93.20" lengthAdjust="spacingAndGlyphs">Current (nA)</text>
<text x="111.80" y="592.80" font-family="Liberation Sans" font-size="16.3" font-weight="bold" fill="#000" textLength="83.20" lengthAdjust="spacingAndGlyphs">Voltage (V)</text>
<line x1="71.40" y1="460.40" x2="91.70" y2="460.40" stroke="#e8262a" stroke-width="1.9"/>
<line x1="71.40" y1="478.00" x2="91.70" y2="478.00" stroke="#000" stroke-width="1.5" stroke-dasharray="3.4,2.2"/>
<text x="95.40" y="466.80" font-family="Liberation Sans" font-size="14.2" textLength="65.8" lengthAdjust="spacingAndGlyphs">Post-target</text>
<text x="95.40" y="483.20" font-family="Liberation Sans" font-size="14.2" textLength="59.8" lengthAdjust="spacingAndGlyphs">Pre-target</text>
<line x1="348.20" y1="458.45" x2="348.20" y2="585.45" stroke="#000" stroke-width="1.9"/>
<line x1="343.60" y1="459.25" x2="348.20" y2="459.25" stroke="#000" stroke-width="1.6"/>
<text x="341.60" y="463.85" font-family="Liberation Sans" font-size="13.4" font-weight="bold" text-anchor="end" fill="#000" >150</text>
<line x1="343.60" y1="490.60" x2="348.20" y2="490.60" stroke="#000" stroke-width="1.6"/>
<text x="341.60" y="495.20" font-family="Liberation Sans" font-size="13.4" font-weight="bold" text-anchor="end" fill="#000" >100</text>
<line x1="343.60" y1="521.95" x2="348.20" y2="521.95" stroke="#000" stroke-width="1.6"/>
<text x="341.60" y="526.55" font-family="Liberation Sans" font-size="13.4" font-weight="bold" text-anchor="end" fill="#000" >50</text>
<line x1="343.60" y1="553.30" x2="348.20" y2="553.30" stroke="#000" stroke-width="1.6"/>
<text x="341.60" y="557.90" font-family="Liberation Sans" font-size="13.4" font-weight="bold" text-anchor="end" fill="#000" >0</text>
<line x1="343.60" y1="584.65" x2="348.20" y2="584.65" stroke="#000" stroke-width="1.6"/>
<text x="341.60" y="589.25" font-family="Liberation Sans" font-size="13.4" font-weight="bold" text-anchor="end" fill="#000" >-50</text>
<line x1="348.20" y1="553.30" x2="537.40" y2="553.30" stroke="#000" stroke-width="1.7"/>
<line x1="354.48" y1="553.30" x2="354.48" y2="556.30" stroke="#000" stroke-width="1.3"/>
<line x1="360.76" y1="553.30" x2="360.76" y2="556.30" stroke="#000" stroke-width="1.3"/>
<line x1="367.04" y1="553.30" x2="367.04" y2="556.30" stroke="#000" stroke-width="1.3"/>
<line x1="373.32" y1="553.30" x2="373.32" y2="556.30" stroke="#000" stroke-width="1.3"/>
<line x1="379.60" y1="553.30" x2="379.60" y2="556.30" stroke="#000" stroke-width="1.3"/>
<line x1="385.88" y1="553.30" x2="385.88" y2="556.30" stroke="#000" stroke-width="1.3"/>
<line x1="392.16" y1="553.30" x2="392.16" y2="556.30" stroke="#000" stroke-width="1.3"/>
<line x1="398.44" y1="553.30" x2="398.44" y2="556.30" stroke="#000" stroke-width="1.3"/>
<line x1="404.72" y1="553.30" x2="404.72" y2="556.30" stroke="#000" stroke-width="1.3"/>
<line x1="411.00" y1="553.30" x2="411.00" y2="558.50" stroke="#000" stroke-width="1.6"/>
<line x1="417.28" y1="553.30" x2="417.28" y2="556.30" stroke="#000" stroke-width="1.3"/>
<line x1="423.56" y1="553.30" x2="423.56" y2="556.30" stroke="#000" stroke-width="1.3"/>
<line x1="429.84" y1="553.30" x2="429.84" y2="556.30" stroke="#000" stroke-width="1.3"/>
<line x1="436.12" y1="553.30" x2="436.12" y2="556.30" stroke="#000" stroke-width="1.3"/>
<line x1="442.40" y1="553.30" x2="442.40" y2="556.30" stroke="#000" stroke-width="1.3"/>
<line x1="448.68" y1="553.30" x2="448.68" y2="556.30" stroke="#000" stroke-width="1.3"/>
<line x1="454.96" y1="553.30" x2="454.96" y2="556.30" stroke="#000" stroke-width="1.3"/>
<line x1="461.24" y1="553.30" x2="461.24" y2="556.30" stroke="#000" stroke-width="1.3"/>
<line x1="467.52" y1="553.30" x2="467.52" y2="556.30" stroke="#000" stroke-width="1.3"/>
<line x1="473.80" y1="553.30" x2="473.80" y2="558.50" stroke="#000" stroke-width="1.6"/>
<line x1="480.08" y1="553.30" x2="480.08" y2="556.30" stroke="#000" stroke-width="1.3"/>
<line x1="486.36" y1="553.30" x2="486.36" y2="556.30" stroke="#000" stroke-width="1.3"/>
<line x1="492.64" y1="553.30" x2="492.64" y2="556.30" stroke="#000" stroke-width="1.3"/>
<line x1="498.92" y1="553.30" x2="498.92" y2="556.30" stroke="#000" stroke-width="1.3"/>
<line x1="505.20" y1="553.30" x2="505.20" y2="556.30" stroke="#000" stroke-width="1.3"/>
<line x1="511.48" y1="553.30" x2="511.48" y2="556.30" stroke="#000" stroke-width="1.3"/>
<line x1="517.76" y1="553.30" x2="517.76" y2="556.30" stroke="#000" stroke-width="1.3"/>
<line x1="524.04" y1="553.30" x2="524.04" y2="556.30" stroke="#000" stroke-width="1.3"/>
<line x1="530.32" y1="553.30" x2="530.32" y2="556.30" stroke="#000" stroke-width="1.3"/>
<line x1="536.60" y1="553.30" x2="536.60" y2="558.50" stroke="#000" stroke-width="1.6"/>
<text x="410.70" y="572.60" font-family="Liberation Sans" font-size="13.6" font-weight="bold" text-anchor="middle" fill="#000" >-0.3</text>
<text x="473.50" y="572.60" font-family="Liberation Sans" font-size="13.6" font-weight="bold" text-anchor="middle" fill="#000" >-0.2</text>
<text x="536.30" y="572.60" font-family="Liberation Sans" font-size="13.6" font-weight="bold" text-anchor="middle" fill="#000" >-0.1</text>
<path d="M348.20,553.30 L348.98,553.30 L349.77,553.30 L350.55,553.30 L351.34,553.30 L352.12,553.30 L352.91,553.30 L353.69,553.30 L354.48,553.30 L355.26,553.30 L356.05,553.30 L356.83,553.30 L357.62,553.30 L358.40,553.30 L359.19,553.30 L359.97,553.30 L360.76,553.30 L361.54,553.30 L362.33,553.30 L363.12,553.30 L363.90,553.30 L364.69,553.30 L365.47,553.30 L366.25,553.30 L367.04,553.30 L367.82,553.30 L368.61,553.30 L369.39,553.30 L370.18,553.30 L370.96,553.30 L371.75,553.30 L372.53,553.30 L373.32,553.30 L374.11,553.30 L374.89,553.30 L375.68,553.30 L376.46,553.30 L377.25,553.30 L378.03,553.30 L378.81,553.30 L379.60,553.30 L380.38,553.30 L381.17,553.30 L381.95,553.30 L382.74,553.30 L383.52,553.30 L384.31,553.30 L385.10,553.30 L385.88,553.30 L386.67,553.30 L387.45,553.30 L388.24,553.30 L389.02,553.30 L389.81,553.30 L390.59,553.30 L391.38,553.30 L392.16,553.30 L392.94,553.30 L393.73,553.30 L394.51,553.30 L395.30,553.30 L396.09,553.30 L396.87,553.30 L397.65,553.30 L398.44,553.30 L399.23,553.30 L400.01,553.30 L400.79,553.30 L401.58,553.30 L402.37,553.30 L403.15,553.30 L403.94,553.30 L404.72,553.30 L405.50,553.30 L406.29,553.30 L407.07,553.30 L407.86,553.30 L408.64,553.30 L409.43,553.30 L410.21,553.30 L411.00,553.30 L411.78,553.30 L412.57,553.30 L413.36,553.30 L414.14,553.30 L414.93,553.30 L415.71,553.30 L416.50,553.30 L417.28,553.30 L418.06,553.30 L418.85,553.30 L419.63,553.30 L420.42,553.30 L421.20,553.30 L421.99,553.30 L422.77,553.30 L423.56,553.30 L424.35,553.30 L425.13,553.30 L425.92,553.30 L426.70,553.30 L427.49,553.30 L428.27,553.30 L429.06,553.30 L429.84,553.30 L430.62,553.30 L431.41,553.30 L432.19,553.30 L432.98,553.30 L433.76,553.30 L434.55,553.30 L435.34,553.30 L436.12,553.30 L436.90,553.30 L437.69,553.30 L438.48,553.30 L439.26,553.30 L440.05,553.30 L440.83,553.30 L441.62,553.30 L442.40,553.30 L443.19,553.30 L443.97,553.30 L444.75,553.30 L445.54,553.30 L446.32,553.30 L447.11,553.30 L447.89,553.30 L448.68,553.30 L449.46,553.30 L450.25,553.30 L451.03,553.30 L451.82,553.30 L452.61,553.30 L453.39,553.30 L454.18,553.30 L454.96,553.30 L455.75,553.30 L456.53,553.30 L457.31,553.30 L458.10,553.30 L458.88,553.30 L459.67,553.30 L460.45,553.30 L461.24,553.30 L462.02,553.30 L462.81,553.30 L463.60,553.30 L464.38,553.30 L465.17,553.30 L465.95,553.30 L466.74,553.30 L467.52,553.30 L468.31,553.30 L469.09,553.30 L469.88,553.30 L470.66,553.30 L471.44,553.30 L472.23,553.30 L473.01,553.30 L473.80,553.30 L474.58,553.30 L475.37,553.30 L476.15,553.30 L476.94,553.30 L477.73,553.30 L478.51,553.30 L479.30,553.30 L480.08,553.30 L480.87,553.30 L481.65,553.30 L482.44,553.30 L483.22,553.30 L484.00,553.30 L484.79,553.30 L485.57,553.30 L486.36,553.30 L487.14,553.30 L487.93,553.30 L488.72,553.30 L489.50,553.30 L490.28,553.30 L491.07,553.30 L491.86,553.30 L492.64,553.30 L493.43,553.30 L494.21,553.30 L495.00,553.30 L495.78,553.30 L496.57,553.30 L497.35,553.30 L498.13,553.30 L498.92,553.30 L499.70,553.30 L500.49,553.30 L501.27,553.30 L502.06,553.30 L502.85,553.30 L503.63,553.30 L504.42,553.30 L505.20,553.30 L505.99,553.30 L506.77,553.30 L507.56,553.30 L508.34,553.30 L509.12,553.30 L509.91,553.30 L510.69,553.30 L511.48,553.30 L512.26,553.30 L513.05,553.30 L513.84,553.30 L514.62,553.30 L515.40,553.30 L516.19,553.30 L516.98,553.30 L517.76,553.30 L518.55,553.30 L519.33,553.30 L520.12,553.30 L520.90,553.30 L521.68,553.30 L522.47,553.30 L523.25,553.30 L524.04,553.30 L524.83,553.30 L525.61,553.30 L526.39,553.30 L527.18,553.30 L527.97,553.30 L528.75,553.30 L529.53,553.30 L530.32,553.30 L531.11,553.30 L531.89,553.30 L532.68,553.30 L533.46,553.30 L534.25,553.30 L535.03,553.30 L535.82,553.30 L536.60,553.30" fill="none" stroke="#e8262a" stroke-width="2.1" stroke-linejoin="round"/>
<path d="M348.20,553.30 L348.98,553.30 L349.77,553.30 L350.55,553.30 L351.34,553.30 L352.12,553.30 L352.91,553.30 L353.69,553.30 L354.48,553.30 L355.26,553.30 L356.05,553.30 L356.83,553.30 L357.62,553.30 L358.40,553.30 L359.19,553.30 L359.97,553.30 L360.76,553.30 L361.54,553.30 L362.33,553.30 L363.12,553.30 L363.90,553.30 L364.69,553.30 L365.47,553.30 L366.25,553.30 L367.04,553.30 L367.82,553.30 L368.61,553.30 L369.39,553.30 L370.18,553.30 L370.96,553.30 L371.75,553.30 L372.53,553.30 L373.32,553.30 L374.11,553.30 L374.89,553.30 L375.68,553.30 L376.46,553.30 L377.25,553.30 L378.03,553.30 L378.81,553.30 L379.60,553.30 L380.38,553.30 L381.17,553.30 L381.95,553.30 L382.74,553.30 L383.52,553.30 L384.31,553.30 L385.10,553.30 L385.88,553.30 L386.67,553.30 L387.45,553.30 L388.24,553.30 L389.02,553.30 L389.81,553.30 L390.59,553.30 L391.38,553.30 L392.16,553.30 L392.94,553.30 L393.73,553.30 L394.51,553.30 L395.30,553.30 L396.09,553.30 L396.87,553.30 L397.65,553.30 L398.44,553.30 L399.23,553.30 L400.01,553.30 L400.79,553.30 L401.58,553.30 L402.37,553.30 L403.15,553.30 L403.94,553.30 L404.72,553.30 L405.50,553.30 L406.29,553.30 L407.07,553.30 L407.86,553.30 L408.64,553.30 L409.43,553.30 L410.21,553.30 L411.00,553.30 L411.78,553.30 L412.57,553.30 L413.36,553.30 L414.14,553.30 L414.93,553.30 L415.71,553.30 L416.50,553.30 L417.28,553.30 L418.06,553.30 L418.85,553.30 L419.63,553.30 L420.42,553.30 L421.20,553.30 L421.99,553.30 L422.77,553.30 L423.56,553.30 L424.35,553.30 L425.13,553.30 L425.92,553.30 L426.70,553.30 L427.49,553.30 L428.27,553.30 L429.06,553.30 L429.84,553.30 L430.62,553.30 L431.41,553.30 L432.19,553.30 L432.98,553.30 L433.76,553.30 L434.55,553.30 L435.34,553.30 L436.12,553.30 L436.90,553.30 L437.69,553.30 L438.48,553.30 L439.26,553.30 L440.05,553.30 L440.83,553.30 L441.62,553.30 L442.40,553.30 L443.19,553.30 L443.97,553.30 L444.75,553.30 L445.54,553.30 L446.32,553.30 L447.11,553.30 L447.89,553.30 L448.68,553.30 L449.46,553.30 L450.25,553.30 L451.03,553.30 L451.82,553.30 L452.61,553.30 L453.39,553.30 L454.18,553.30 L454.96,553.30 L455.75,553.30 L456.53,553.30 L457.31,553.30 L458.10,553.30 L458.88,553.30 L459.67,553.30 L460.45,553.30 L461.24,553.30 L462.02,553.30 L462.81,553.30 L463.60,553.30 L464.38,553.30 L465.17,553.30 L465.95,553.30 L466.74,553.30 L467.52,553.30 L468.31,553.30 L469.09,553.30 L469.88,553.30 L470.66,553.30 L471.44,553.30 L472.23,553.30 L473.01,553.30 L473.80,553.30 L474.58,553.30 L475.37,553.30 L476.15,553.30 L476.94,553.30 L477.73,553.30 L478.51,553.30 L479.30,553.30 L480.08,553.30 L480.87,553.30 L481.65,553.30 L482.44,553.30 L483.22,553.30 L484.00,553.30 L484.79,553.30 L485.57,553.30 L486.36,553.30 L487.14,553.30 L487.93,553.30 L488.72,553.30 L489.50,553.30 L490.28,553.30 L491.07,553.30 L491.86,553.30 L492.64,553.30 L493.43,553.30 L494.21,553.30 L495.00,553.30 L495.78,553.30 L496.57,553.30 L497.35,553.30 L498.13,553.30 L498.92,553.30 L499.70,553.30 L500.49,553.30 L501.27,553.30 L502.06,553.30 L502.85,553.30 L503.63,553.30 L504.42,553.30 L505.20,553.30 L505.99,553.30 L506.77,553.30 L507.56,553.30 L508.34,553.30 L509.12,553.30 L509.91,553.30 L510.69,553.30 L511.48,553.30 L512.26,553.30 L513.05,553.30 L513.84,553.30 L514.62,553.30 L515.40,553.30 L516.19,553.30 L516.98,553.30 L517.76,553.30 L518.55,553.30 L519.33,553.30 L520.12,553.30 L520.90,553.30 L521.68,553.30 L522.47,553.30 L523.25,553.30 L524.04,553.30 L524.83,553.30 L525.61,553.30 L526.39,553.30 L527.18,553.30 L527.97,553.30 L528.75,553.30 L529.53,553.30 L530.32,553.30 L531.11,553.30 L531.89,553.30 L532.68,553.30 L533.46,553.30 L534.25,553.30 L535.03,553.30 L535.82,553.30 L536.60,553.30" fill="none" stroke="#000" stroke-width="1.5" stroke-linejoin="round" stroke-dasharray="3.4,2.3"/>
<text transform="translate(310.80,517.90) rotate(-90)" x="-50.15" y="0" font-family="Liberation Sans" font-size="16.4" font-weight="bold" fill="#000" textLength="100.30" lengthAdjust="spacingAndGlyphs">Current (nA)</text>
<text x="399.00" y="595.50" font-family="Liberation Sans" font-size="16.3" font-weight="bold" fill="#000" textLength="87.00" lengthAdjust="spacingAndGlyphs">Voltage (V)</text>
<line x1="444.60" y1="462.30" x2="464.90" y2="462.30" stroke="#e8262a" stroke-width="1.9"/>
<line x1="444.60" y1="479.20" x2="464.90" y2="479.20" stroke="#000" stroke-width="1.5" stroke-dasharray="3.4,2.2"/>
<text x="468.60" y="468.30" font-family="Liberation Sans" font-size="14.2" textLength="65.8" lengthAdjust="spacingAndGlyphs">Post-target</text>
<text x="468.60" y="484.80" font-family="Liberation Sans" font-size="14.2" textLength="59.8" lengthAdjust="spacingAndGlyphs">Pre-target</text>
<line x1="161.50" y1="653.53" x2="161.50" y2="669.42" stroke="#000" stroke-width="1.3"/>
<line x1="154.20" y1="653.53" x2="168.80" y2="653.53" stroke="#000" stroke-width="1.3"/>
<rect x="147.60" y="670.32" width="27.80" height="98.68" fill="#000" stroke="#000" stroke-width="1.8"/>
<line x1="161.50" y1="769.00" x2="161.50" y2="776.00" stroke="#000" stroke-width="1.8"/>
<line x1="205.65" y1="689.14" x2="205.65" y2="710.59" stroke="#000" stroke-width="1.3"/>
<line x1="198.35" y1="689.14" x2="212.95" y2="689.14" stroke="#000" stroke-width="1.3"/>
<rect x="191.80" y="711.49" width="27.70" height="57.51" fill="#a6a6a6" stroke="#000" stroke-width="1.8"/>
<line x1="205.65" y1="769.00" x2="205.65" y2="776.00" stroke="#000" stroke-width="1.8"/>
<line x1="132.00" y1="615.00" x2="132.00" y2="769.90" stroke="#000" stroke-width="1.9"/>
<line x1="131.10" y1="769.00" x2="233.40" y2="769.00" stroke="#000" stroke-width="1.9"/>
<line x1="126.20" y1="769.00" x2="132.00" y2="769.00" stroke="#000" stroke-width="1.7"/>
<text x="124.00" y="774.60" font-family="Liberation Sans" font-size="16.3" font-weight="bold" text-anchor="end" fill="#000" >0.0</text>
<line x1="126.20" y1="730.70" x2="132.00" y2="730.70" stroke="#000" stroke-width="1.7"/>
<text x="124.00" y="736.30" font-family="Liberation Sans" font-size="16.3" font-weight="bold" text-anchor="end" fill="#000" >0.2</text>
<line x1="126.20" y1="692.40" x2="132.00" y2="692.40" stroke="#000" stroke-width="1.7"/>
<text x="124.00" y="698.00" font-family="Liberation Sans" font-size="16.3" font-weight="bold" text-anchor="end" fill="#000" >0.4</text>
<line x1="126.20" y1="654.10" x2="132.00" y2="654.10" stroke="#000" stroke-width="1.7"/>
<text x="124.00" y="659.70" font-family="Liberation Sans" font-size="16.3" font-weight="bold" text-anchor="end" fill="#000" >0.6</text>
<line x1="126.20" y1="615.80" x2="132.00" y2="615.80" stroke="#000" stroke-width="1.7"/>
<text x="124.00" y="621.40" font-family="Liberation Sans" font-size="16.3" font-weight="bold" text-anchor="end" fill="#000" >0.8</text>
<text transform="translate(90.70,688.70) rotate(-90)" x="-63.20" y="0" font-family="Liberation Sans" font-size="21.4" font-weight="bold" fill="#000" textLength="126.40" lengthAdjust="spacingAndGlyphs">Fold Change</text>
<text transform="translate(168.60,791.50) rotate(-45)" x="-52.00" y="0" font-family="Liberation Sans" font-size="17" font-weight="bold" fill="#000" textLength="52.00" lengthAdjust="spacingAndGlyphs">Target</text>
<text transform="translate(211.80,790.80) rotate(-45)" x="-46.00" y="0" font-family="Liberation Sans" font-size="17" font-weight="bold" fill="#000" textLength="46.00" lengthAdjust="spacingAndGlyphs">Blank</text>
<line x1="438.65" y1="647.85" x2="438.65" y2="683.88" stroke="#000" stroke-width="1.3"/>
<line x1="431.35" y1="647.85" x2="445.95" y2="647.85" stroke="#000" stroke-width="1.3"/>
<rect x="425.30" y="684.78" width="26.70" height="80.92" fill="#000" stroke="#000" stroke-width="1.8"/>
<line x1="438.65" y1="765.70" x2="438.65" y2="772.70" stroke="#000" stroke-width="1.8"/>
<line x1="480.75" y1="754.99" x2="480.75" y2="759.86" stroke="#000" stroke-width="1.3"/>
<line x1="474.20" y1="754.99" x2="487.30" y2="754.99" stroke="#000" stroke-width="1.3"/>
<rect x="467.90" y="760.76" width="25.70" height="4.94" fill="#a6a6a6" stroke="#000" stroke-width="1.8"/>
<line x1="480.75" y1="765.70" x2="480.75" y2="772.70" stroke="#000" stroke-width="1.8"/>
<line x1="410.20" y1="618.80" x2="410.20" y2="766.60" stroke="#000" stroke-width="1.9"/>
<line x1="409.30" y1="765.70" x2="509.20" y2="765.70" stroke="#000" stroke-width="1.9"/>
<line x1="404.40" y1="765.70" x2="410.20" y2="765.70" stroke="#000" stroke-width="1.7"/>
<text x="402.50" y="771.30" font-family="Liberation Sans" font-size="16.3" font-weight="bold" text-anchor="end" fill="#000" >0</text>
<line x1="404.40" y1="717.00" x2="410.20" y2="717.00" stroke="#000" stroke-width="1.7"/>
<text x="402.50" y="722.60" font-family="Liberation Sans" font-size="16.3" font-weight="bold" text-anchor="end" fill="#000" >50</text>
<line x1="404.40" y1="668.30" x2="410.20" y2="668.30" stroke="#000" stroke-width="1.7"/>
<text x="402.50" y="673.90" font-family="Liberation Sans" font-size="16.3" font-weight="bold" text-anchor="end" fill="#000" >100</text>
<line x1="404.40" y1="619.60" x2="410.20" y2="619.60" stroke="#000" stroke-width="1.7"/>
<text x="402.50" y="625.20" font-family="Liberation Sans" font-size="16.3" font-weight="bold" text-anchor="end" fill="#000" >150</text>
<text transform="translate(367.00,688.00) rotate(-90)" x="-59.60" y="0" font-family="Liberation Sans" font-size="21.4" font-weight="bold" fill="#000" textLength="119.20" lengthAdjust="spacingAndGlyphs">Fold Change</text>
<text transform="translate(445.00,786.80) rotate(-45)" x="-50.00" y="0" font-family="Liberation Sans" font-size="17" font-weight="bold" fill="#000" textLength="50.00" lengthAdjust="spacingAndGlyphs">Target</text>
<text transform="translate(487.00,786.00) rotate(-45)" x="-44.00" y="0" font-family="Liberation Sans" font-size="17" font-weight="bold" fill="#000" textLength="44.00" lengthAdjust="spacingAndGlyphs">Blank</text>
<rect x="96.4" y="80.2" width="80.00" height="6.60" rx="3.30" fill="#b3a253"/>
<rect x="263.1" y="80.2" width="77.40" height="6.60" rx="3.30" fill="#b3a253"/>
<rect x="449.5" y="80.2" width="82.90" height="6.60" rx="3.30" fill="#b3a253"/>
<rect x="96.4" y="175.2" width="80.00" height="6.60" rx="3.30" fill="#b3a253"/>
<rect x="263.6" y="175.3" width="76.90" height="6.60" rx="3.30" fill="#b3a253"/>
<rect x="449.5" y="175.3" width="82.90" height="6.60" rx="3.30" fill="#b3a253"/>
<path d="M114.40,86.80 C113.87,87.37 112.28,89.10 111.20,90.20 C110.12,91.30 108.52,92.45 107.90,93.40 C107.28,94.35 107.22,95.07 107.50,95.90 C107.78,96.73 108.80,97.58 109.60,98.40 C110.40,99.22 111.97,100.07 112.30,100.80 C112.63,101.53 111.72,102.47 111.60,102.80" fill="none" stroke="#5a5a5a" stroke-width="1.0" stroke-linecap="round"/>
<path d="M166.40,86.80 C165.87,87.37 164.28,89.10 163.20,90.20 C162.12,91.30 160.52,92.45 159.90,93.40 C159.28,94.35 159.22,95.07 159.50,95.90 C159.78,96.73 160.80,97.58 161.60,98.40 C162.40,99.22 163.97,100.07 164.30,100.80 C164.63,101.53 163.72,102.47 163.60,102.80" fill="none" stroke="#5a5a5a" stroke-width="1.0" stroke-linecap="round"/>
<path d="M280.00,86.80 C279.47,87.37 277.88,89.10 276.80,90.20 C275.72,91.30 274.12,92.45 273.50,93.40 C272.88,94.35 272.82,95.07 273.10,95.90 C273.38,96.73 274.40,97.58 275.20,98.40 C276.00,99.22 277.57,100.07 277.90,100.80 C278.23,101.53 277.32,102.47 277.20,102.80" fill="none" stroke="#5a5a5a" stroke-width="1.0" stroke-linecap="round"/>
<path d="M330.90,86.80 C330.37,87.37 328.78,89.10 327.70,90.20 C326.62,91.30 325.02,92.45 324.40,93.40 C323.78,94.35 323.72,95.07 324.00,95.90 C324.28,96.73 325.30,97.58 326.10,98.40 C326.90,99.22 328.47,100.07 328.80,100.80 C329.13,101.53 328.22,102.47 328.10,102.80" fill="none" stroke="#5a5a5a" stroke-width="1.0" stroke-linecap="round"/>
<path d="M464.20,91.20 C463.80,91.50 462.38,92.33 461.80,93.00 C461.22,93.67 460.75,94.48 460.70,95.20 C460.65,95.92 461.00,96.72 461.50,97.30 C462.00,97.88 463.33,98.47 463.70,98.70" fill="none" stroke="#777" stroke-width="0.9"/>
<path d="M466.00,91.50 C465.83,92.08 465.25,93.85 465.00,95.00 C464.75,96.15 464.43,97.15 464.50,98.40 C464.57,99.65 465.25,101.82 465.40,102.50" fill="none" stroke="#1a1a1a" stroke-width="1.2"/>
<ellipse cx="467.3" cy="89" rx="3.8" ry="2.4" fill="#3e72c4"/>
<rect x="463.8" y="102.9" width="5.3" height="3.0" rx="1.1" fill="#d42a20" transform="rotate(8 466.4 104.4)"/>
<path d="M518.90,90.70 C518.40,91.12 516.45,92.38 515.90,93.20 C515.35,94.02 515.33,94.72 515.60,95.60 C515.87,96.48 516.77,97.58 517.50,98.50 C518.23,99.42 519.58,100.67 520.00,101.10" fill="none" stroke="#777" stroke-width="0.9"/>
<path d="M523.50,91.30 C523.35,91.68 523.27,92.88 522.60,93.60 C521.93,94.32 520.72,94.95 519.50,95.60 C518.28,96.25 516.12,96.73 515.30,97.50 C514.48,98.27 514.45,99.35 514.60,100.20 C514.75,101.05 515.62,102.00 516.20,102.60 C516.78,103.20 517.78,103.60 518.10,103.80" fill="none" stroke="#1a1a1a" stroke-width="1.2"/>
<ellipse cx="522.1" cy="88.6" rx="3.8" ry="2.4" fill="#3e72c4"/>
<rect x="515.8" y="103.1" width="5.3" height="3.0" rx="1.1" fill="#d42a20" transform="rotate(8 518.4 104.6)"/>
<line x1="91.5" y1="167.3" x2="99.5" y2="166.3" stroke="#666" stroke-width="1.0" transform="translate(0,0)"/>
<path d="M103.00,166.00 C103.30,165.58 104.55,164.77 104.80,163.50 C105.05,162.23 103.85,159.88 104.50,158.40 C105.15,156.92 107.32,154.60 108.70,154.60 C110.08,154.60 112.18,156.93 112.80,158.40 C113.42,159.87 112.25,162.15 112.40,163.40 C112.55,164.65 113.48,165.48 113.70,165.90" fill="none" stroke="#1a1a1a" stroke-width="1.1" transform="translate(0,0)"/>
<path d="M113.20,169.50 C112.97,169.92 111.93,171.05 111.80,172.00 C111.67,172.95 112.30,174.67 112.40,175.20" fill="none" stroke="#1a1a1a" stroke-width="1.1" transform="translate(0,0)"/>
<ellipse cx="118.3" cy="168.6" rx="5.1" ry="3.8" fill="#fff" stroke="#111" stroke-width="1.25" transform="translate(0,0)"/>
<ellipse cx="118.1" cy="168.7" rx="3.6" ry="2.2" fill="#9b3fb8" transform="translate(0,0)"/>
<ellipse cx="88.6" cy="167.6" rx="3.6" ry="2.4" fill="#3e72c4" transform="translate(0,0)"/>
<ellipse cx="101.1" cy="166.3" rx="2.4" ry="1.6" fill="#d42a20" transform="translate(0,0)"/>
<line x1="91.5" y1="167.3" x2="99.5" y2="166.3" stroke="#666" stroke-width="1.0" transform="translate(49,0)"/>
<path d="M103.00,166.00 C103.30,165.58 104.55,164.77 104.80,163.50 C105.05,162.23 103.85,159.88 104.50,158.40 C105.15,156.92 107.32,154.60 108.70,154.60 C110.08,154.60 112.18,156.93 112.80,158.40 C113.42,159.87 112.25,162.15 112.40,163.40 C112.55,164.65 113.48,165.48 113.70,165.90" fill="none" stroke="#1a1a1a" stroke-width="1.1" transform="translate(49,0)"/>
<path d="M113.20,169.50 C112.97,169.92 111.93,171.05 111.80,172.00 C111.67,172.95 112.30,174.67 112.40,175.20" fill="none" stroke="#1a1a1a" stroke-width="1.1" transform="translate(49,0)"/>
<ellipse cx="118.3" cy="168.6" rx="5.1" ry="3.8" fill="#fff" stroke="#111" stroke-width="1.25" transform="translate(49,0)"/>
<ellipse cx="118.1" cy="168.7" rx="3.6" ry="2.2" fill="#9b3fb8" transform="translate(49,0)"/>
<ellipse cx="88.6" cy="167.6" rx="3.6" ry="2.4" fill="#3e72c4" transform="translate(49,0)"/>
<ellipse cx="101.1" cy="166.3" rx="2.4" ry="1.6" fill="#d42a20" transform="translate(49,0)"/>
<line x1="260.5" y1="166.6" x2="268.2" y2="164.9" stroke="#666" stroke-width="1.0" transform="translate(0.00,0)"/>
<line x1="272.2" y1="164" x2="276.8" y2="162.3" stroke="#1a1a1a" stroke-width="1.0" transform="translate(0.00,0)"/>
<ellipse cx="277.7" cy="158.6" rx="1.9" ry="3.7" transform="translate(0.00,0) rotate(22 277.7 158.6)" fill="none" stroke="#1a1a1a" stroke-width="1.0"/>
<path d="M276.80,162.00 C277.08,162.75 278.07,165.00 278.50,166.50 C278.93,168.00 279.23,169.55 279.40,171.00 C279.57,172.45 279.48,174.50 279.50,175.20" fill="none" stroke="#1a1a1a" stroke-width="1.1" transform="translate(0.00,0)"/>
<ellipse cx="257.3" cy="167.8" rx="3.4" ry="2.4" fill="#3e72c4" transform="translate(0.00,0)"/>
<ellipse cx="270" cy="164.5" rx="2.2" ry="1.5" fill="#d42a20" transform="translate(0.00,0)"/>
<line x1="260.5" y1="166.6" x2="268.2" y2="164.9" stroke="#666" stroke-width="1.0" transform="translate(44.90,0)"/>
<line x1="272.2" y1="164" x2="276.8" y2="162.3" stroke="#1a1a1a" stroke-width="1.0" transform="translate(44.90,0)"/>
<ellipse cx="277.7" cy="158.6" rx="1.9" ry="3.7" transform="translate(44.90,0) rotate(22 277.7 158.6)" fill="none" stroke="#1a1a1a" stroke-width="1.0"/>
<path d="M276.80,162.00 C277.08,162.75 278.07,165.00 278.50,166.50 C278.93,168.00 279.23,169.55 279.40,171.00 C279.57,172.45 279.48,174.50 279.50,175.20" fill="none" stroke="#1a1a1a" stroke-width="1.1" transform="translate(44.90,0)"/>
<ellipse cx="257.3" cy="167.8" rx="3.4" ry="2.4" fill="#3e72c4" transform="translate(44.90,0)"/>
<ellipse cx="270" cy="164.5" rx="2.2" ry="1.5" fill="#d42a20" transform="translate(44.90,0)"/>
<path d="M466.50,159.60 C466.13,160.15 464.45,161.58 464.30,162.90 C464.15,164.22 465.38,166.73 465.60,167.50" fill="none" stroke="#1a1a1a" stroke-width="1.1" transform="translate(0.00,0)"/>
<path d="M465.60,168.90 C465.38,169.35 464.15,170.52 464.30,171.60 C464.45,172.68 466.13,174.77 466.50,175.40" fill="none" stroke="#1a1a1a" stroke-width="1.1" transform="translate(0.00,0)"/>
<ellipse cx="471.6" cy="168.4" rx="5.9" ry="3.5" fill="#fff" stroke="#111" stroke-width="1.3" transform="translate(0.00,0)"/>
<ellipse cx="471.4" cy="168.6" rx="4.0" ry="2.3" fill="#9c3fb8" transform="translate(0.00,0)"/>
<path d="M466.50,159.60 C466.13,160.15 464.45,161.58 464.30,162.90 C464.15,164.22 465.38,166.73 465.60,167.50" fill="none" stroke="#1a1a1a" stroke-width="1.1" transform="translate(44.50,0)"/>
<path d="M465.60,168.90 C465.38,169.35 464.15,170.52 464.30,171.60 C464.45,172.68 466.13,174.77 466.50,175.40" fill="none" stroke="#1a1a1a" stroke-width="1.1" transform="translate(44.50,0)"/>
<ellipse cx="471.6" cy="168.4" rx="5.9" ry="3.5" fill="#fff" stroke="#111" stroke-width="1.3" transform="translate(44.50,0)"/>
<ellipse cx="471.4" cy="168.6" rx="4.0" ry="2.3" fill="#9c3fb8" transform="translate(44.50,0)"/>
<path d="M207.93,117.30 l-0.49,-2.80 M210.80,117.30 l0.40,-2.69 M213.66,117.30 l0.11,-3.18 M216.53,117.30 l-1.43,-3.10 M219.40,117.30 l-1.44,-2.96 M222.26,117.30 l-1.12,-2.51 M225.13,117.30 l-0.29,-3.91 M227.99,117.30 l-1.06,-2.76 M230.86,117.30 l0.51,-4.08 M233.72,117.30 l0.36,-3.21 M236.45,118.08 l2.22,-1.49 M238.52,120.02 l2.98,-0.69 M239.47,122.70 l2.51,-1.21 M239.08,125.51 l3.84,0.74 M237.44,127.83 l3.02,1.82 M234.92,129.13 l0.33,3.18 M232.07,129.30 l-0.13,2.70 M229.20,129.30 l1.22,2.66 M226.34,129.30 l-0.58,3.23 M223.47,129.30 l0.64,3.48 M220.60,129.30 l0.14,3.08 M217.74,129.30 l-1.06,3.57 M214.87,129.30 l0.87,3.41 M212.01,129.30 l-0.10,4.00 M209.14,129.30 l-0.68,2.98 M206.28,129.30 l-1.35,2.44 M203.55,128.52 l-1.61,3.46 M201.48,126.58 l-2.05,2.69 M200.53,123.90 l-3.13,1.92 M200.92,121.09 l-2.83,-2.09 M202.56,118.77 l-1.06,-2.91 M205.08,117.47 l-0.17,-3.55" stroke="#b4576a" stroke-width="0.75" fill="none" stroke-linecap="round"/>
<rect x="200.50" y="117.30" width="39.0" height="12.0" rx="6.0" fill="#d06a7a" stroke="#a8485a" stroke-width="0.9"/>
<rect x="205.00" y="119.70" width="11" height="1" rx="0.5" fill="#e49aa6" opacity="0.8"/>
<circle cx="207.4" cy="104.7" r="3.3" fill="#8a3aa6"/>
<circle cx="225.4" cy="109.4" r="3.3" fill="#8a3aa6"/>
<circle cx="202.2" cy="140.7" r="3.5" fill="#8a3aa6"/>
<circle cx="234.9" cy="100.9" r="3.0" fill="#e0897e"/>
<circle cx="217.8" cy="140.2" r="3.0" fill="#e0897e"/>
<rect x="209.30" y="108.20" width="7.2" height="2.4" rx="1.2" fill="#6aaef0"/>
<rect x="226.20" y="141.10" width="7.2" height="2.4" rx="1.2" fill="#6aaef0"/>
<rect x="200.9" y="166.10" width="22.30" height="3.8" fill="#1e1e1e"/>
<path d="M222.20,159.20 L240.20,168.00 L222.20,176.80 Z" fill="#1e1e1e"/>
<rect x="382.0" y="166.20" width="22.80" height="3.8" fill="#1e1e1e"/>
<path d="M403.80,159.30 L421.80,168.10 L403.80,176.90 Z" fill="#1e1e1e"/>
<path d="M398.9,93.2 L398.9,81.8 A2.2,2.2 0 0 1 403.3,81.8 L403.3,93.2 A4.9,4.9 0 1 1 398.9,93.2 Z" fill="#fff" stroke="#333" stroke-width="1.1"/>
<rect x="400.4" y="86.3" width="1.4" height="8" fill="#e06070"/>
<circle cx="401.1" cy="96.6" r="2.7" fill="#d94050"/>
<text x="382.8" y="114.9" font-family="Liberation Sans" font-size="13.9" fill="#222" textLength="35.6" lengthAdjust="spacing">37 °C</text>
<circle cx="394.5" cy="135.4" r="13.6" fill="#c4e2f3"/>
<circle cx="394.5" cy="135.4" r="12.0" fill="#6cb5df"/>
<path d="M394.5,127.8 L394.5,136 L401.1,136" fill="none" stroke="#e8f4fb" stroke-width="0.9"/>
<rect x="414.6" y="117.8" width="1.6" height="3" fill="#3a6bb8"/>
<rect x="413.4" y="117.2" width="4" height="1.2" rx="0.5" fill="#3a6bb8"/>
<path d="M411.2,121.2 L414.5,120 L418.6,121.6 L419,128 L417.5,136 L414.2,136.4 L413.2,128 L413.2,123.2 Z" fill="#3c6fbd"/>
<path d="M416.4,122 L417.6,122 L417.2,134.8 L416.2,134.8 Z" fill="#24488a" opacity="0.7"/>
<path d="M414.8,136.4 L416.8,136.4 L416.1,156.2 L415.6,156.2 Z" fill="#c8ccd2"/>
<line x1="415.8" y1="137" x2="415.8" y2="155" stroke="#9aa" stroke-width="0.5"/>
<g transform="translate(67.25,49.2) rotate(46.9)"><rect x="-22.7" y="-8.5" width="45.4" height="17" rx="1.6" fill="#fff" stroke="#8f8f8f" stroke-width="0.8"/><path d="M12.6,-7.7 L-10.4,-7.7 A7.7,7.7 0 0 0 -10.4,7.7 L12.6,7.7 Z" fill="#78b3d6"/><rect x="12.2" y="-5.05" width="8.6" height="1.7" fill="#ad9a3e"/><rect x="12.2" y="-0.85" width="8.6" height="1.7" fill="#ad9a3e"/><rect x="12.2" y="3.35" width="8.6" height="1.7" fill="#ad9a3e"/><path d="M0.7,0.0 L3.55,5.84 A6.5,6.5 0 1 1 1.38,-6.46 Z" fill="#b39e45"/><path d="M0.7,0.0 L2.89,4.49 A5.0,5.0 0 1 1 1.91,-4.85 Z" fill="#fff"/><path d="M0.7,0.0 L0.93,-6.50 A6.5,6.5 0 0 1 2.49,-6.25 Z" fill="#fff"/><circle cx="0.7" cy="0.0" r="3.5" fill="#b39e45"/></g>
<g transform="translate(67.8,215.8) rotate(-46.2)"><rect x="-22.7" y="-8.5" width="45.4" height="17" rx="1.6" fill="#fff" stroke="#8f8f8f" stroke-width="0.8"/><path d="M12.6,-7.7 L-10.4,-7.7 A7.7,7.7 0 0 0 -10.4,7.7 L12.6,7.7 Z" fill="#78b3d6"/><rect x="12.2" y="-5.05" width="8.6" height="1.7" fill="#ad9a3e"/><rect x="12.2" y="-0.85" width="8.6" height="1.7" fill="#ad9a3e"/><rect x="12.2" y="3.35" width="8.6" height="1.7" fill="#ad9a3e"/><path d="M0.7,0.0 L3.55,5.84 A6.5,6.5 0 1 1 1.38,-6.46 Z" fill="#b39e45"/><path d="M0.7,0.0 L2.89,4.49 A5.0,5.0 0 1 1 1.91,-4.85 Z" fill="#fff"/><path d="M0.7,0.0 L0.93,-6.50 A6.5,6.5 0 0 1 2.49,-6.25 Z" fill="#fff"/><circle cx="0.7" cy="0.0" r="3.5" fill="#b39e45"/></g>
<line x1="68.6" y1="50.6" x2="97.0" y2="81.0" stroke="#222" stroke-width="1.6" stroke-dasharray="1.6,2.3"/>
<line x1="69.0" y1="214.6" x2="99.6" y2="181.4" stroke="#222" stroke-width="1.6" stroke-dasharray="1.6,2.3"/>
<line x1="119.4" y1="8.3" x2="119.4" y2="46.4" stroke="#aaa" stroke-width="0.9"/><line x1="119.4" y1="46.4" x2="168.4" y2="46.4" stroke="#aaa" stroke-width="0.9"/><path d="M123.80,46.4 l0,0.9 M128.20,46.4 l0,0.9 M132.60,46.4 l0,0.9 M137.00,46.4 l0,0.9 M141.40,46.4 l0,0.9 M145.80,46.4 l0,0.9 M150.20,46.4 l0,0.9 M154.60,46.4 l0,0.9 M159.00,46.4 l0,0.9 M163.40,46.4 l0,0.9 M167.80,46.4 l0,0.9" stroke="#aaa" stroke-width="0.6"/><path d="M119.4,39.20 l-0.9,0 M119.4,32.00 l-0.9,0 M119.4,24.80 l-0.9,0 M119.4,17.60 l-0.9,0 M119.4,10.40 l-0.9,0" stroke="#aaa" stroke-width="0.6"/><path d="M119.90,40.40 C120.53,40.68 122.15,41.63 123.70,42.10 C125.25,42.57 127.02,42.93 129.20,43.20 C131.38,43.47 134.27,43.57 136.80,43.70 C139.33,43.83 141.85,44.00 144.40,44.00 C146.95,44.00 149.73,43.87 152.10,43.70 C154.47,43.53 156.88,43.22 158.60,43.00 C160.32,42.78 161.77,42.50 162.40,42.40" fill="none" stroke="#cf3f8a" stroke-width="1.7" stroke-linecap="round"/><text transform="translate(111.7,28.0) rotate(-90)" x="-25.50" font-family="Liberation Sans" font-size="16" fill="#1e1e1e" textLength="51.00" lengthAdjust="spacingAndGlyphs">Current</text><text x="117.6" y="69.0" font-family="Liberation Sans" font-size="16" fill="#1e1e1e" textLength="54.00" lengthAdjust="spacingAndGlyphs">Voltage</text>
<line x1="474.6" y1="8.8" x2="474.6" y2="47.0" stroke="#999" stroke-width="0.9"/><line x1="474.6" y1="47.0" x2="524.0" y2="47.0" stroke="#999" stroke-width="0.9"/><path d="M479.00,47.0 l0,0.9 M483.40,47.0 l0,0.9 M487.80,47.0 l0,0.9 M492.20,47.0 l0,0.9 M496.60,47.0 l0,0.9 M501.00,47.0 l0,0.9 M505.40,47.0 l0,0.9 M509.80,47.0 l0,0.9 M514.20,47.0 l0,0.9 M518.60,47.0 l0,0.9 M523.00,47.0 l0,0.9" stroke="#999" stroke-width="0.6"/><path d="M474.6,39.80 l-0.9,0 M474.6,32.60 l-0.9,0 M474.6,25.40 l-0.9,0 M474.6,18.20 l-0.9,0 M474.6,11.00 l-0.9,0" stroke="#999" stroke-width="0.6"/><path d="M476.00,43.20 C476.82,43.38 479.40,44.50 480.90,44.30 C482.40,44.10 483.82,43.28 485.00,42.00 C486.18,40.72 486.95,39.68 488.00,36.60 C489.05,33.52 490.40,26.67 491.30,23.50 C492.20,20.33 492.73,18.87 493.40,17.60 C494.07,16.33 494.68,15.93 495.30,15.90 C495.92,15.87 496.50,16.48 497.10,17.40 C497.70,18.32 498.15,18.73 498.90,21.40 C499.65,24.07 500.60,30.13 501.60,33.40 C502.60,36.67 503.45,39.23 504.90,41.00 C506.35,42.77 508.22,43.63 510.30,44.00 C512.38,44.37 516.22,43.33 517.40,43.20" fill="none" stroke="#cf3f8a" stroke-width="1.7" stroke-linecap="round"/><text transform="translate(466.7,28.35) rotate(-90)" x="-25.15" font-family="Liberation Sans" font-size="16" fill="#1e1e1e" textLength="50.30" lengthAdjust="spacingAndGlyphs">Current</text><text x="473.3" y="68.9" font-family="Liberation Sans" font-size="16" fill="#1e1e1e" textLength="52.80" lengthAdjust="spacingAndGlyphs">Voltage</text>
<line x1="121.2" y1="194.7" x2="121.2" y2="233.2" stroke="#888" stroke-width="0.9"/><line x1="121.2" y1="233.2" x2="170.5" y2="233.2" stroke="#888" stroke-width="0.9"/><path d="M125.60,233.2 l0,0.9 M130.00,233.2 l0,0.9 M134.40,233.2 l0,0.9 M138.80,233.2 l0,0.9 M143.20,233.2 l0,0.9 M147.60,233.2 l0,0.9 M152.00,233.2 l0,0.9 M156.40,233.2 l0,0.9 M160.80,233.2 l0,0.9 M165.20,233.2 l0,0.9 M169.60,233.2 l0,0.9" stroke="#888" stroke-width="0.6"/><path d="M121.2,226.00 l-0.9,0 M121.2,218.80 l-0.9,0 M121.2,211.60 l-0.9,0 M121.2,204.40 l-0.9,0 M121.2,197.20 l-0.9,0" stroke="#888" stroke-width="0.6"/><path d="M122.50,230.70 C123.23,230.93 125.25,232.28 126.90,232.10 C128.55,231.92 130.95,231.02 132.40,229.60 C133.85,228.18 134.60,226.42 135.60,223.60 C136.60,220.78 137.63,215.70 138.40,212.70 C139.17,209.70 139.67,207.13 140.20,205.60 C140.73,204.07 141.10,203.55 141.60,203.50 C142.10,203.45 142.65,204.32 143.20,205.30 C143.75,206.28 144.17,206.88 144.90,209.40 C145.63,211.92 146.60,217.22 147.60,220.40 C148.60,223.58 149.45,226.60 150.90,228.50 C152.35,230.40 154.22,231.43 156.30,231.80 C158.38,232.17 162.22,230.88 163.40,230.70" fill="none" stroke="#cf3f8a" stroke-width="1.7" stroke-linecap="round"/><text transform="translate(111.3,215.9) rotate(-90)" x="-25.50" font-family="Liberation Sans" font-size="16" fill="#1e1e1e" textLength="51.00" lengthAdjust="spacingAndGlyphs">Current</text><text x="118.3" y="257.2" font-family="Liberation Sans" font-size="16" fill="#1e1e1e" textLength="52.80" lengthAdjust="spacingAndGlyphs">Voltage</text>
<line x1="475.5" y1="193.3" x2="475.5" y2="230.1" stroke="#777" stroke-width="0.9"/><line x1="475.5" y1="230.1" x2="523.4" y2="230.1" stroke="#777" stroke-width="0.9"/><path d="M479.90,230.1 l0,0.9 M484.30,230.1 l0,0.9 M488.70,230.1 l0,0.9 M493.10,230.1 l0,0.9 M497.50,230.1 l0,0.9 M501.90,230.1 l0,0.9 M506.30,230.1 l0,0.9 M510.70,230.1 l0,0.9 M515.10,230.1 l0,0.9 M519.50,230.1 l0,0.9" stroke="#777" stroke-width="0.6"/><path d="M475.5,222.90 l-0.9,0 M475.5,215.70 l-0.9,0 M475.5,208.50 l-0.9,0 M475.5,201.30 l-0.9,0 M475.5,194.10 l-0.9,0" stroke="#777" stroke-width="0.6"/><path d="M476.50,228.20 C477.23,227.98 479.25,227.37 480.90,226.90 C482.55,226.43 484.77,226.00 486.40,225.40 C488.03,224.80 489.25,223.97 490.70,223.30 C492.15,222.63 493.82,221.58 495.10,221.40 C496.38,221.22 497.22,221.62 498.40,222.20 C499.58,222.78 500.75,224.22 502.20,224.90 C503.65,225.58 505.38,225.88 507.10,226.30 C508.82,226.72 510.87,227.08 512.50,227.40 C514.13,227.72 516.17,228.07 516.90,228.20" fill="none" stroke="#cf3f8a" stroke-width="1.7" stroke-linecap="round"/><text transform="translate(466.3,214.2) rotate(-90)" x="-24.40" font-family="Liberation Sans" font-size="16" fill="#1e1e1e" textLength="48.80" lengthAdjust="spacingAndGlyphs">Current</text><text x="474.6" y="254.0" font-family="Liberation Sans" font-size="16" fill="#1e1e1e" textLength="52.10" lengthAdjust="spacingAndGlyphs">Voltage</text>
<text x="10.6" y="96.4" font-family="Liberation Sans" font-size="13.2" fill="#1e1e1e" textLength="66.6" lengthAdjust="spacingAndGlyphs">Electrode 2</text>
<text x="10.6" y="177.8" font-family="Liberation Sans" font-size="13.2" fill="#1e1e1e" textLength="65.4" lengthAdjust="spacingAndGlyphs">Electrode 1</text>
</svg>
</body></html>
